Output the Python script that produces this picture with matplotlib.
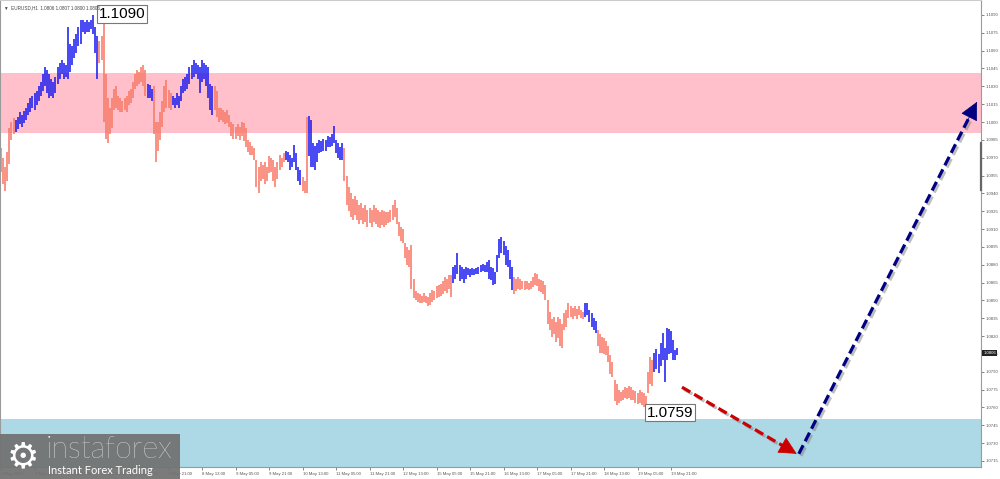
import matplotlib
matplotlib.use("Agg")
import matplotlib.pyplot as plt
import matplotlib.patheffects as pe
from matplotlib.patches import Rectangle
import numpy as np

# EURUSD H1, 2 May 13:00 .. 19 May 23:00 (bar highs / lows in pips above 1.0000)
high_pips = [
    978, 970, 962, 975, 995, 1000, 1003,
    1002, 1004, 1008, 1006, 1009, 1012, 1016, 1020, 1022, 1024, 1026, 1030, 1034, 1040,
    1046, 1044, 1040, 1036, 1034, 1038, 1046, 1050, 1052, 1050, 1048, 1080, 1066, 1064,
    1070, 1074, 1080, 1086, 1086, 1084, 1086, 1084, 1086, 1090, 1080, 1072,
    1068, 1072, 1086, 1040, 1020, 1012, 1020, 1028, 1030, 1022, 1020, 1018, 1020, 1022,
    1026, 1028, 1034, 1040, 1044, 1042, 1046, 1048, 1044,
    1032, 1031, 1028,
    1030, 1000, 1000, 1008, 1018, 1030, 1035, 1027, 1024,
    1022, 1020, 1024, 1022, 1030, 1036, 1038, 1040, 1046, 1048, 1052, 1050, 1048, 1046,
    1052, 1050, 1048, 1046, 1032, 1030,
    1030, 1026, 1012, 1012, 1010, 1008, 1010, 1006, 1000, 998, 996, 998, 996, 1000, 999,
    995, 985, 983, 980, 978, 968, 962, 966, 964, 966, 962, 971, 970, 968, 962, 966, 972,
    970, 974,
    976, 975, 972, 970, 981, 974, 962, 960,
    954, 950, 1004,
    1005, 1002, 982, 980, 982, 985, 984, 986, 985, 988, 987, 990, 997, 985, 982, 979, 982,
    978, 955, 945, 940, 935, 938, 934, 930, 932, 928, 930, 926, 928, 926, 930, 928, 926,
    924, 926, 925, 924, 924, 926, 930, 934, 928, 916, 912, 910, 898, 895, 892, 897, 868,
    858, 856, 855, 854, 856, 854, 853, 856, 859, 858, 862, 863, 864, 866, 870, 868, 871, 871,
    878, 880, 890, 880, 878, 876, 878, 877, 876, 877, 876, 877, 878, 880, 881, 880, 882,
    884, 878, 877, 874, 888, 902, 903, 900, 896, 892, 884, 878,
    870, 868, 870, 868, 866, 866, 866, 865, 866, 870, 873, 872, 868, 867, 866, 863, 850,
    840, 834, 836, 832, 836, 834, 830, 839, 842, 848, 845, 844, 845, 843, 845, 842, 840,
    848, 848, 842, 839, 835, 833,
    825, 822, 819, 818, 816, 812, 804, 798, 783, 780, 775, 773, 775, 777, 776, 778, 777,
    775, 774, 772, 775, 773, 772, 770, 790, 802, 800,
    806, 809, 805, 814, 823, 810, 827, 826, 824, 817, 808, 810,
]
low_pips = [
    958, 948, 942, 950, 965, 985, 990,
    992, 994, 998, 996, 999, 1002, 1006, 1008, 1012, 1010, 1014, 1018, 1022, 1026,
    1030, 1024, 1020, 1022, 1020, 1024, 1032, 1036, 1040, 1036, 1038, 1036, 1042, 1048,
    1054, 1058, 1064, 1066, 1076, 1074, 1076, 1076, 1078, 1074, 1058, 1036,
    1050, 1052, 1000, 986, 982, 990, 995, 1010, 1012, 1010, 1008, 1008, 1010, 1008,
    1014, 1016, 1020, 1028, 1030, 1032, 1034, 1030, 1022,
    1020, 1020, 1018,
    990, 966, 976, 985, 996, 1008, 1012, 1012, 1010,
    1014, 1012, 1014, 1012, 1018, 1024, 1026, 1028, 1032, 1036, 1038, 1040, 1036, 1024,
    1034, 1036, 1030, 1020, 1010, 1006,
    1010, 1004, 1000, 1002, 1000, 998, 999, 996, 988, 986, 986, 988, 985, 988, 984,
    979, 975, 972, 972, 968, 945, 940, 950, 952, 948, 950, 957, 958, 950, 945, 952, 960,
    962, 966,
    968, 966, 960, 962, 966, 960, 950, 947,
    942, 940, 940,
    971, 962, 962, 960, 966, 974, 975, 976, 976, 979, 979, 980, 982, 974, 970, 968, 968,
    950, 930, 925, 920, 918, 922, 918, 914, 918, 914, 916, 912, 915, 912, 916, 914, 912,
    911, 913, 912, 913, 915, 916, 918, 920, 914, 904, 900, 898, 886, 880, 878, 860, 852,
    850, 849, 848, 848, 849, 848, 845, 846, 849, 850, 852, 853, 854, 855, 858, 856, 860, 853,
    865, 868, 872, 866, 868, 865, 868, 871, 870, 871, 871, 872, 872, 874, 875, 874, 874,
    868, 867, 863, 864, 874, 886, 890, 888, 880, 878, 868, 859,
    855, 858, 860, 859, 860, 859, 860, 859, 860, 861, 863, 862, 858, 857, 855, 850, 830,
    825, 819, 822, 815, 818, 812, 810, 825, 828, 835, 836, 834, 837, 834, 838, 835, 834,
    836, 838, 832, 828, 825, 823,
    812, 806, 806, 805, 804, 798, 788, 786, 765, 762, 764, 765, 766, 768, 767, 768, 766,
    766, 764, 763, 764, 762, 760, 759, 772, 780, 778,
    790, 792, 789, 795, 800, 781, 800, 805, 806, 800, 800, 804,
]
# bar index ranges drawn in blue (the rest are salmon)
blue_ranges = [(7, 46), (70, 72), (82, 101), (136, 143), (147, 163), (216, 244), (279, 284), (312, 323)]

time_idx = list(range(0, 321, 16))
time_labels = ["2 May 2023", "3 May 05:00", "3 May 21:00", "4 May 13:00", "5 May 05:00",
               "5 May 21:00", "8 May 13:00", "9 May 05:00", "9 May 21:00", "10 May 13:00",
               "11 May 05:00", "11 May 21:00", "12 May 13:00", "15 May 05:00", "15 May 21:00",
               "16 May 13:00", "17 May 05:00", "17 May 21:00", "18 May 13:00", "19 May 05:00",
               "19 May 21:00"]

last_price = 1.0806
high_mark = 1.1090
low_mark = 1.0759
resist_zone = (1.0991, 1.1041)
support_zone = (1.0750, 1.0700)
red_arrow = [(325.2, 1.0777), (380.0, 1.0721)]
blue_arrow = [(381.0, 1.0721), (466.1, 1.1017)]

highs = 1 + np.array(high_pips) / 10000
lows = 1 + np.array(low_pips) / 10000
idx = np.arange(len(highs))
SALMON = "#F87A68"
BLUE = "#1E1EF0"
colors = [SALMON] * len(idx)
for a, b in blue_ranges:
    for k in range(a, b + 1):
        colors[k] = BLUE

fig = plt.figure(figsize=(10, 4.79), dpi=100)
ax = fig.add_axes([0, 12 / 479, 0.981, 467 / 479])
ax.set_xlim(-0.48, 468.0)
ax.set_ylim(1.07099, 1.11026)

ax.axhspan(*resist_zone, color="#FFC0CB", lw=0, zorder=0)
ax.axhspan(support_zone[1], support_zone[0], color="#ADD8E6", lw=0, zorder=0)

ax.vlines(idx, lows, highs, colors=colors, linewidth=1.15, zorder=2)

# labels for extremes
lbl_kw = dict(fontsize=11, family="Liberation Sans", ha="left", va="center", zorder=5,
              bbox=dict(boxstyle="square,pad=0.12", fc="white", ec="#777777", lw=0.8))
ax.text(46.6, 1.1091, f"{high_mark:.4f}", **lbl_kw)
ax.text(308.2, 1.07557, f"{low_mark:.4f}", **lbl_kw)

# forecast arrows
shadow = [pe.SimpleLineShadow(offset=(1.5, -1.5), shadow_color="#808080", alpha=0.5), pe.Normal()]
for pts, col, frac in [(red_arrow, "#CC0000", 0.10), (blue_arrow, "#000080", 0.045)]:
    (x0, y0), (x1, y1) = pts
    xb = x1 - frac * (x1 - x0)
    yb = y1 - frac * (y1 - y0)
    ax.plot([x0, xb], [y0, yb], color=col, lw=2.3, ls=(0, (3, 1.4)),
            solid_capstyle="butt", dash_capstyle="butt", zorder=4, path_effects=shadow)
    ax.annotate("", xy=(x1, y1), xytext=(x1 - 1.5 * frac * (x1 - x0), y1 - 1.5 * frac * (y1 - y0)),
                arrowprops=dict(arrowstyle="-|>,head_length=0.9,head_width=0.45", color=col,
                                lw=0.5, shrinkA=0, shrinkB=0, mutation_scale=13),
                zorder=4)

# axes styling (MT4 look)
for s in ax.spines.values():
    s.set_color("#9a9a9a")
    s.set_linewidth(0.8)
ax.spines["top"].set_color("#cccccc")
ax.yaxis.tick_right()
yt = np.arange(715, 1091, 15) / 10000 + 1
ax.set_yticks(yt, [f"{v:.4f}" for v in yt])
ax.tick_params(axis="y", labelsize=3.1, colors="#555555", length=2, width=0.5, pad=1.2)
ax.set_xticks(time_idx, time_labels)
ax.tick_params(axis="x", labelsize=3.1, colors="#555555", length=2, width=0.5, pad=1.5)
for t in ax.get_xticklabels() + ax.get_yticklabels():
    t.set_family("Liberation Sans")
for t in ax.get_xticklabels():
    t.set_ha("left")

ax.plot([1, 1], [1.0943, 1.0982], transform=ax.get_yaxis_transform(), color="#666666",
        lw=1.6, clip_on=False, zorder=6)

# current price box
ax.text(1.0025, last_price, f"{last_price:.4f}", transform=ax.get_yaxis_transform(),
        fontsize=3.1, family="Liberation Sans", color="white", va="center", ha="left",
        clip_on=False, bbox=dict(boxstyle="square,pad=0.25", fc="#222222", ec="none"))

fig.text(0.004, 0.99, "\u25bc  EURUSD,H1  1.0806 1.0807 1.0800 1.0806", fontsize=3.3,
         family="Liberation Sans", color="#444444", va="top", ha="left")

# logo
lax = fig.add_axes([0, 0, 0.18, 45 / 479])
lax.set_xlim(0, 180)
lax.set_ylim(0, 45)
lax.axis("off")
lax.add_patch(Rectangle((0, 0), 180, 45, fc="#717171", alpha=0.93, ec="none"))
lax.text(23, 22, "\u2699", fontsize=26, color="white", ha="center", va="center",
         family="DejaVu Sans")
lax.text(46, 29, "instaforex", fontsize=22, color="white", ha="left", va="center",
         family="Lato", fontweight="light")
lax.text(48, 9, "Instant Forex Trading", fontsize=8, color="white", ha="left", va="center",
         family="Lato")

fig.savefig("out.png", dpi=100)
